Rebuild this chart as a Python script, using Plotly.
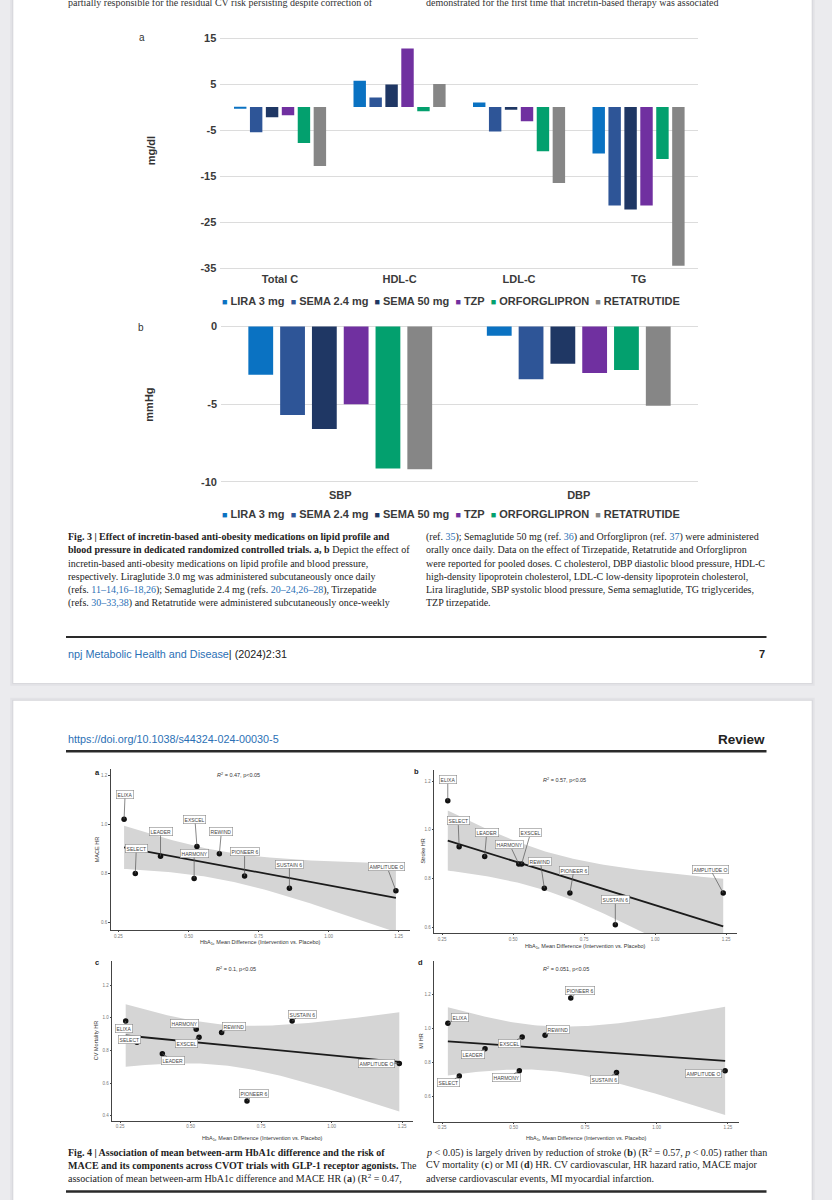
import numpy as np
import plotly.graph_objects as go

# ---------------- DATA ----------------
# Fig. 3a lipid profile (mg/dl)
LIPID_CATS = ["Total C", "HDL-C", "LDL-C", "TG"]
lira_lipid = [-0.2, 5.7, 1.0, -10.1]
sema24_lipid = [-5.5, 2.1, -5.3, -21.4]
sema50_lipid = [-2.2, 4.9, -0.6, -22.3]
tzp_lipid = [-1.8, 12.7, -3.1, -21.4]
orfo_lipid = [-7.8, -0.9, -9.6, -11.3]
reta_lipid = [-12.8, 5.0, -16.5, -34.5]
LIPID_TICKS = [15, 5, -5, -15, -25, -35]

# Fig. 3b blood pressure (mmHg)
BP_CATS = ["SBP", "DBP"]
lira_bp = [-3.1, -0.6]
sema24_bp = [-5.7, -3.4]
sema50_bp = [-6.6, -2.4]
tzp_bp = [-5.0, -3.0]
orfo_bp = [-9.15, -2.8]
reta_bp = [-9.2, -5.1]
BP_TICKS = [0, -5, -10]

DRUGS = ["LIRA 3 mg", "SEMA 2.4 mg", "SEMA 50 mg", "TZP", "ORFORGLIPRON", "RETATRUTIDE"]

# Fig. 4 CVOT trials
TRIALS = ["ELIXA", "SELECT", "LEADER", "HARMONY", "EXSCEL", "REWIND",
          "PIONEER 6", "SUSTAIN 6", "AMPLITUDE O"]
hba1c_diff = [0.27, 0.31, 0.40, 0.52, 0.53, 0.61, 0.70, 0.86, 1.24]
mace_hr = [1.02, 0.80, 0.87, 0.78, 0.91, 0.88, 0.79, 0.74, 0.73]
stroke_hr = [1.12, 0.93, 0.89, 0.86, 0.86, 0.76, 0.74, 0.61, 0.74]
cvdeath_hr = [0.98, 0.85, 0.78, 0.93, 0.88, 0.91, 0.49, 0.98, 0.72]
mi_hr = [1.03, 0.72, 0.88, 0.75, 0.95, 0.96, 1.18, 0.74, 0.75]
R2_TEXT = ["0.47", "0.57", "0.1", "0.051"]
X_TICKS = [0.25, 0.50, 0.75, 1.00, 1.25]

# ---------------- STYLE ----------------
W, H = 832, 1200
SANS = "Liberation Sans"
SERIF = "Liberation Serif"
DRUG_COLORS = ["#0A72C2", "#2E5597", "#1F3764", "#7030A0", "#03A06E", "#868686"]
LINK = "#2B70B5"
BG = "#EBEBEE"


def X(p):
    return p / W


def Y(p):
    return 1 - p / H


fig = go.Figure()

# ---------------- BAR CHARTS ----------------
lipid_series = [lira_lipid, sema24_lipid, sema50_lipid, tzp_lipid, orfo_lipid, reta_lipid]
bp_series = [lira_bp, sema24_bp, sema50_bp, tzp_bp, orfo_bp, reta_bp]
for name, col, vals in zip(DRUGS, DRUG_COLORS, lipid_series):
    fig.add_trace(go.Bar(x=LIPID_CATS, y=vals, name=name, marker=dict(color=col, line=dict(width=0)),
                         xaxis="x", yaxis="y", hoverinfo="skip"))
for name, col, vals in zip(DRUGS, DRUG_COLORS, bp_series):
    fig.add_trace(go.Bar(x=BP_CATS, y=vals, name=name, marker=dict(color=col, line=dict(width=0)),
                         xaxis="x2", yaxis="y2", hoverinfo="skip"))

# ---------------- SCATTER PANELS ----------------
T975_DF7 = 2.3646


def fit_band(xv, yv):
    x = np.asarray(xv, float)
    y = np.asarray(yv, float)
    n = len(x)
    b1, b0 = np.polyfit(x, y, 1)
    res = y - (b0 + b1 * x)
    s = np.sqrt(np.sum(res ** 2) / (n - 2))
    mx = x.mean()
    sxx = np.sum((x - mx) ** 2)
    xs = np.linspace(x.min(), x.max(), 100)
    yh = b0 + b1 * xs
    se = s * np.sqrt(1.0 / n + (xs - mx) ** 2 / sxx)
    return xs, yh, yh - T975_DF7 * se, yh + T975_DF7 * se


panels = [
    dict(y=mace_hr, ax="x3", ay="y3"),
    dict(y=stroke_hr, ax="x4", ay="y4"),
    dict(y=cvdeath_hr, ax="x5", ay="y5"),
    dict(y=mi_hr, ax="x6", ay="y6"),
]
for p in panels:
    xs, yh, lo, hi = fit_band(hba1c_diff, p["y"])
    fig.add_trace(go.Scatter(x=np.concatenate([xs, xs[::-1]]), y=np.concatenate([hi, lo[::-1]]),
                             fill="toself", fillcolor="#D5D5D5", line=dict(width=0), mode="lines",
                             xaxis=p["ax"], yaxis=p["ay"], hoverinfo="skip"))
    fig.add_trace(go.Scatter(x=xs, y=yh, mode="lines", line=dict(color="#1b1b1b", width=1.8),
                             xaxis=p["ax"], yaxis=p["ay"], hoverinfo="skip"))
    fig.add_trace(go.Scatter(x=hba1c_diff, y=p["y"], mode="markers",
                             marker=dict(color="#111111", size=5.5), xaxis=p["ax"], yaxis=p["ay"],
                             hoverinfo="skip"))

# ---------------- AXES ----------------
bar_tick_font = dict(family=SANS, size=11, color="#3a3a3a", weight="bold")
layout_axes = dict(
    xaxis=dict(domain=[X(220.3), X(698.3)], anchor="y", type="category", range=[-0.5, 3.5],
               showgrid=False, showline=False, zeroline=False, ticks="", tickfont=bar_tick_font,
               ticklabelstandoff=2),
    yaxis=dict(domain=[Y(266.4), Y(31.9)], anchor="x", range=[-35.3, 15.3], tickvals=LIPID_TICKS,
               ticktext=[str(t) for t in LIPID_TICKS],
               showgrid=True, gridcolor="#DCDCDC", gridwidth=1, zeroline=False, showline=False,
               tickfont=bar_tick_font, ticklabelstandoff=3),
    xaxis2=dict(domain=[X(221), X(698)], anchor="y2", type="category", range=[-0.5, 1.5],
                showgrid=False, showline=False, zeroline=False, ticks="", tickfont=bar_tick_font,
                ticklabelstandoff=1),
    yaxis2=dict(domain=[Y(485), Y(319.3)], anchor="x2", range=[-10.3, 0.3], tickvals=BP_TICKS,
                ticktext=[str(t) for t in BP_TICKS],
                showgrid=True, gridcolor="#DCDCDC", gridwidth=1, zeroline=False, showline=False,
                tickfont=bar_tick_font, ticklabelstandoff=3),
)


def sc_x(dom, anchor):
    return dict(domain=[X(dom[0]), X(dom[1])], anchor=anchor, range=[0.2215, 1.2885],
                tickvals=X_TICKS, ticktext=["%.2f" % t for t in X_TICKS],
                showline=True, linecolor="#444444", linewidth=0.8, ticks="outside", ticklen=1.5,
                tickwidth=0.6, tickcolor="#444444", tickfont=dict(family=SANS, size=4.5, color="#777777"),
                ticklabelstandoff=0, showgrid=False, zeroline=False)


def sc_y(dom, anchor, rng, ticks):
    return dict(domain=[Y(dom[1]), Y(dom[0])], anchor=anchor, range=rng,
                tickvals=ticks, ticktext=["%.1f" % t for t in ticks],
                showline=True, linecolor="#444444", linewidth=0.8, ticks="outside", ticklen=1.5,
                tickwidth=0.6, tickcolor="#444444", tickfont=dict(family=SANS, size=4.5, color="#777777"),
                showgrid=False, zeroline=False)


layout_axes.update(
    xaxis3=sc_x((110.5, 409.5), "y3"), yaxis3=sc_y((770, 932), "x3", [0.570, 1.224], [0.6, 0.8, 1.0, 1.2]),
    xaxis4=sc_x((434, 737), "y4"), yaxis4=sc_y((771, 935), "x4", [0.576, 1.245], [0.6, 0.8, 1.0, 1.2]),
    xaxis5=sc_x((112, 413), "y5"), yaxis5=sc_y((963, 1124), "x5", [0.370, 1.349], [0.4, 0.6, 0.8, 1.0, 1.2]),
    xaxis6=sc_x((434, 739), "y6"), yaxis6=sc_y((963, 1125), "x6", [0.451, 1.399], [0.6, 0.8, 1.0, 1.2]),
)

# ---------------- SHAPES (pages, rules) ----------------
shapes = []


def rect(x0, y0, x1, y1, color, layer="below"):
    shapes.append(dict(type="rect", xref="paper", yref="paper", x0=X(x0), x1=X(x1), y0=Y(y1), y1=Y(y0),
                       fillcolor=color, line=dict(width=0), layer=layer))


def hline(x0, x1, y, width, color="#2a2a2a"):
    shapes.append(dict(type="line", xref="paper", yref="paper", x0=X(x0), x1=X(x1), y0=Y(y), y1=Y(y),
                       line=dict(color=color, width=width), layer="above"))


for (y0, y1) in [(-30, 683), (701, 1230)]:
    rect(10.3, y0 - 3, 814.7, y1 + 3, "#E2E2E6")
    rect(12.3, y0 - 1, 812.7, y1 + 1, "#D6D6DA")
    rect(13.3, y0, 811.7, y1, "#FFFFFF")

hline(66, 766.5, 636.7, 2)
hline(66, 766.5, 752, 2.5)
hline(66, 766.5, 1195.5, 2.5)

# ---------------- ANNOTATIONS ----------------
ann = []


def txt(x, y, text, size, color="#222222", family=SANS, xanchor="left", yanchor="middle", angle=0):
    ann.append(dict(xref="paper", yref="paper", x=X(x), y=Y(y), text=text, showarrow=False,
                    xanchor=xanchor, yanchor=yanchor, textangle=angle,
                    font=dict(family=family, size=size, color=color)))


CAP = 10

# cut-off line at the very top
txt(66, -2.5, "partially responsible for the residual CV risk persisting despite correction of", CAP, "#333", SERIF)
txt(424.4, -2.5, "demonstrated for the first time that incretin-based therapy was associated", CAP, "#333", SERIF)

# bar chart labels
txt(137, 32.5, "a", 10, "#333")
txt(150.6, 146.7, "<b>mg/dl</b>", 11, "#333", xanchor="center", angle=-90)
txt(136, 325, "b", 10, "#333")
txt(148.7, 403, "<b>mmHg</b>", 11, "#333", xanchor="center", angle=-90)

legend_text = "  ".join('<span style="color:%s;font-size:9px">■</span> <b>%s</b>' % (c, d)
                        for c, d in zip(DRUG_COLORS, DRUGS))
txt(451, 298.3, legend_text, 11, "#3a3a3a", xanchor="center")
txt(451, 513.3, legend_text, 11, "#3a3a3a", xanchor="center")


def ref(s):
    return '<span style="color:%s">%s</span>' % (LINK, s)


cap3_left = [
    "<b>Fig. 3 | Effect of incretin-based anti-obesity medications on lipid profile and</b>",
    "<b>blood pressure in dedicated randomized controlled trials. a, b</b> Depict the effect of",
    "incretin-based anti-obesity medications on lipid profile and blood pressure,",
    "respectively. Liraglutide 3.0 mg was administered subcutaneously once daily",
    "(refs. %s); Semaglutide 2.4 mg (refs. %s), Tirzepatide" % (ref("11–14,16–18,26"), ref("20–24,26–28")),
    "(refs. %s) and Retatrutide were administered subcutaneously once-weekly" % ref("30–33,38"),
]
cap3_right = [
    "(ref. %s); Semaglutide 50 mg (ref. %s) and Orforglipron (ref. %s) were administered" % (ref("35"), ref("36"), ref("37")),
    "orally once daily. Data on the effect of Tirzepatide, Retatrutide and Orforglipron",
    "were reported for pooled doses. C cholesterol, DBP diastolic blood pressure, HDL-C",
    "high-density lipoprotein cholesterol, LDL-C low-density lipoprotein cholesterol,",
    "Lira liraglutide, SBP systolic blood pressure, Sema semaglutide, TG triglycerides,",
    "TZP tirzepatide.",
]
for i, line in enumerate(cap3_left):
    txt(66, 535.7 + 13.35 * i, line, CAP, "#222", SERIF)
for i, line in enumerate(cap3_right):
    txt(424.4, 535.7 + 13.35 * i, line, CAP, "#222", SERIF)

txt(66, 653.5, '<span style="color:%s">npj Metabolic Health and Disease</span>| (2024)2:31' % LINK, 10.8, "#222")
txt(766.5, 653.5, "<b>7</b>", 11, "#222", xanchor="right")
txt(66, 740, "https://doi.org/10.1038/s44324-024-00030-5", 10.8, LINK)
txt(766.5, 740, "<b>Review</b>", 13.5, "#222", xanchor="right")

cap4_left = [
    "<b>Fig. 4 | Association of mean between-arm HbA1c difference and the risk of</b>",
    "<b>MACE and its components across CVOT trials with GLP-1 receptor agonists.</b> The",
    "association of mean between-arm HbA1c difference and MACE HR (<b>a</b>) (R<sup>2</sup> = 0.47,",
]
cap4_right = [
    "<i>p</i> &lt; 0.05) is largely driven by reduction of stroke (<b>b</b>) (R<sup>2</sup> = 0.57, <i>p</i> &lt; 0.05) rather than",
    "CV mortality (<b>c</b>) or MI (<b>d</b>) HR. CV cardiovascular, HR hazard ratio, MACE major",
    "adverse cardiovascular events, MI myocardial infarction.",
]
for i, line in enumerate(cap4_left):
    txt(66, 1155.7 + 13.3 * i, line, CAP, "#222", SERIF)
for i, line in enumerate(cap4_right):
    txt(424.4, 1155.7 + 13.3 * i, line, CAP, "#222", SERIF)

# scatter panel texts
panel_meta = [
    dict(letter="a", lpos=(97, 773), ytitle="MACE HR", ytpos=(96.6, 851), r2pos=(238, 776), xtpos=(260, 945)),
    dict(letter="b", lpos=(416, 772), ytitle="Stroke HR", ytpos=(423, 853), r2pos=(564.5, 780.6), xtpos=(585, 948.5)),
    dict(letter="c", lpos=(97, 965), ytitle="CV Mortality HR", ytpos=(96, 1044), r2pos=(236, 971), xtpos=(262, 1142.5)),
    dict(letter="d", lpos=(420, 965), ytitle="MI HR", ytpos=(421.6, 1044), r2pos=(566, 971), xtpos=(586, 1142.5)),
]
for m, r2 in zip(panel_meta, R2_TEXT):
    txt(m["lpos"][0], m["lpos"][1], "<b>%s</b>" % m["letter"], 7.5, "#222", xanchor="center")
    txt(m["ytpos"][0], m["ytpos"][1], m["ytitle"], 5.5, "#333", xanchor="center", angle=-90)
    txt(m["r2pos"][0], m["r2pos"][1], "<i>R</i><sup>2</sup> = %s, p&lt;0.05" % r2, 5.5, "#333", xanchor="center")
    txt(m["xtpos"][0], m["xtpos"][1], "HbA<sub>1c</sub> Mean Difference (Intervention vs. Placebo)", 5.5,
        "#333", xanchor="center")

# repel-style labels (pixel offsets of label boxes from their points)
label_offsets = [
    [(1, -25), (1, -25), (0, -25), (0, -25), (-2, -27), (2, -22), (0, -24), (0, -24), (-9, -24)],
    [(0, -21), (-1, -26), (2, -24), (-9, -19), (9, -31), (-4, -27), (4, -23), (0, -25), (-13, -24)],
    [(-2, 7), (-7, -3), (11, 7), (-12, -6), (-13, 6), (12, -6), (7, -7), (10, -7), (-23, 0)],
    [(12, -6), (-11, 7), (-12, 6), (-13, 7), (-13, 7), (13, -6), (9, -7), (-12, 7), (-22, 3)],
]
for p, offs in zip(panels, label_offsets):
    for name, xv, yv, (dx, dy) in zip(TRIALS, hba1c_diff, p["y"], offs):
        ann.append(dict(xref=p["ax"], yref=p["ay"], x=xv, y=yv, text=name, showarrow=True,
                        arrowhead=0, arrowwidth=0.7, arrowcolor="#555555", ax=dx, ay=dy, standoff=0,
                        bgcolor="#FFFFFF", bordercolor="#8A8A8A", borderwidth=0.6, borderpad=1,
                        font=dict(family=SANS, size=5, color="#444444")))

fig.update_layout(
    width=W, height=H, margin=dict(l=0, r=0, t=0, b=0),
    paper_bgcolor=BG, plot_bgcolor="rgba(0,0,0,0)",
    showlegend=False, barmode="group", bargap=0.2, bargroupgap=0.22,
    shapes=shapes, annotations=ann, **layout_axes,
)

page_css = ("document.body.style.margin='0';document.body.style.padding='0';"
            "document.body.style.overflow='hidden';"
            "document.body.style.background='%s';"
            "document.documentElement.style.background='%s';" % (BG, BG))
fig.write_html("out.html", post_script=page_css, config={"displayModeBar": False})
